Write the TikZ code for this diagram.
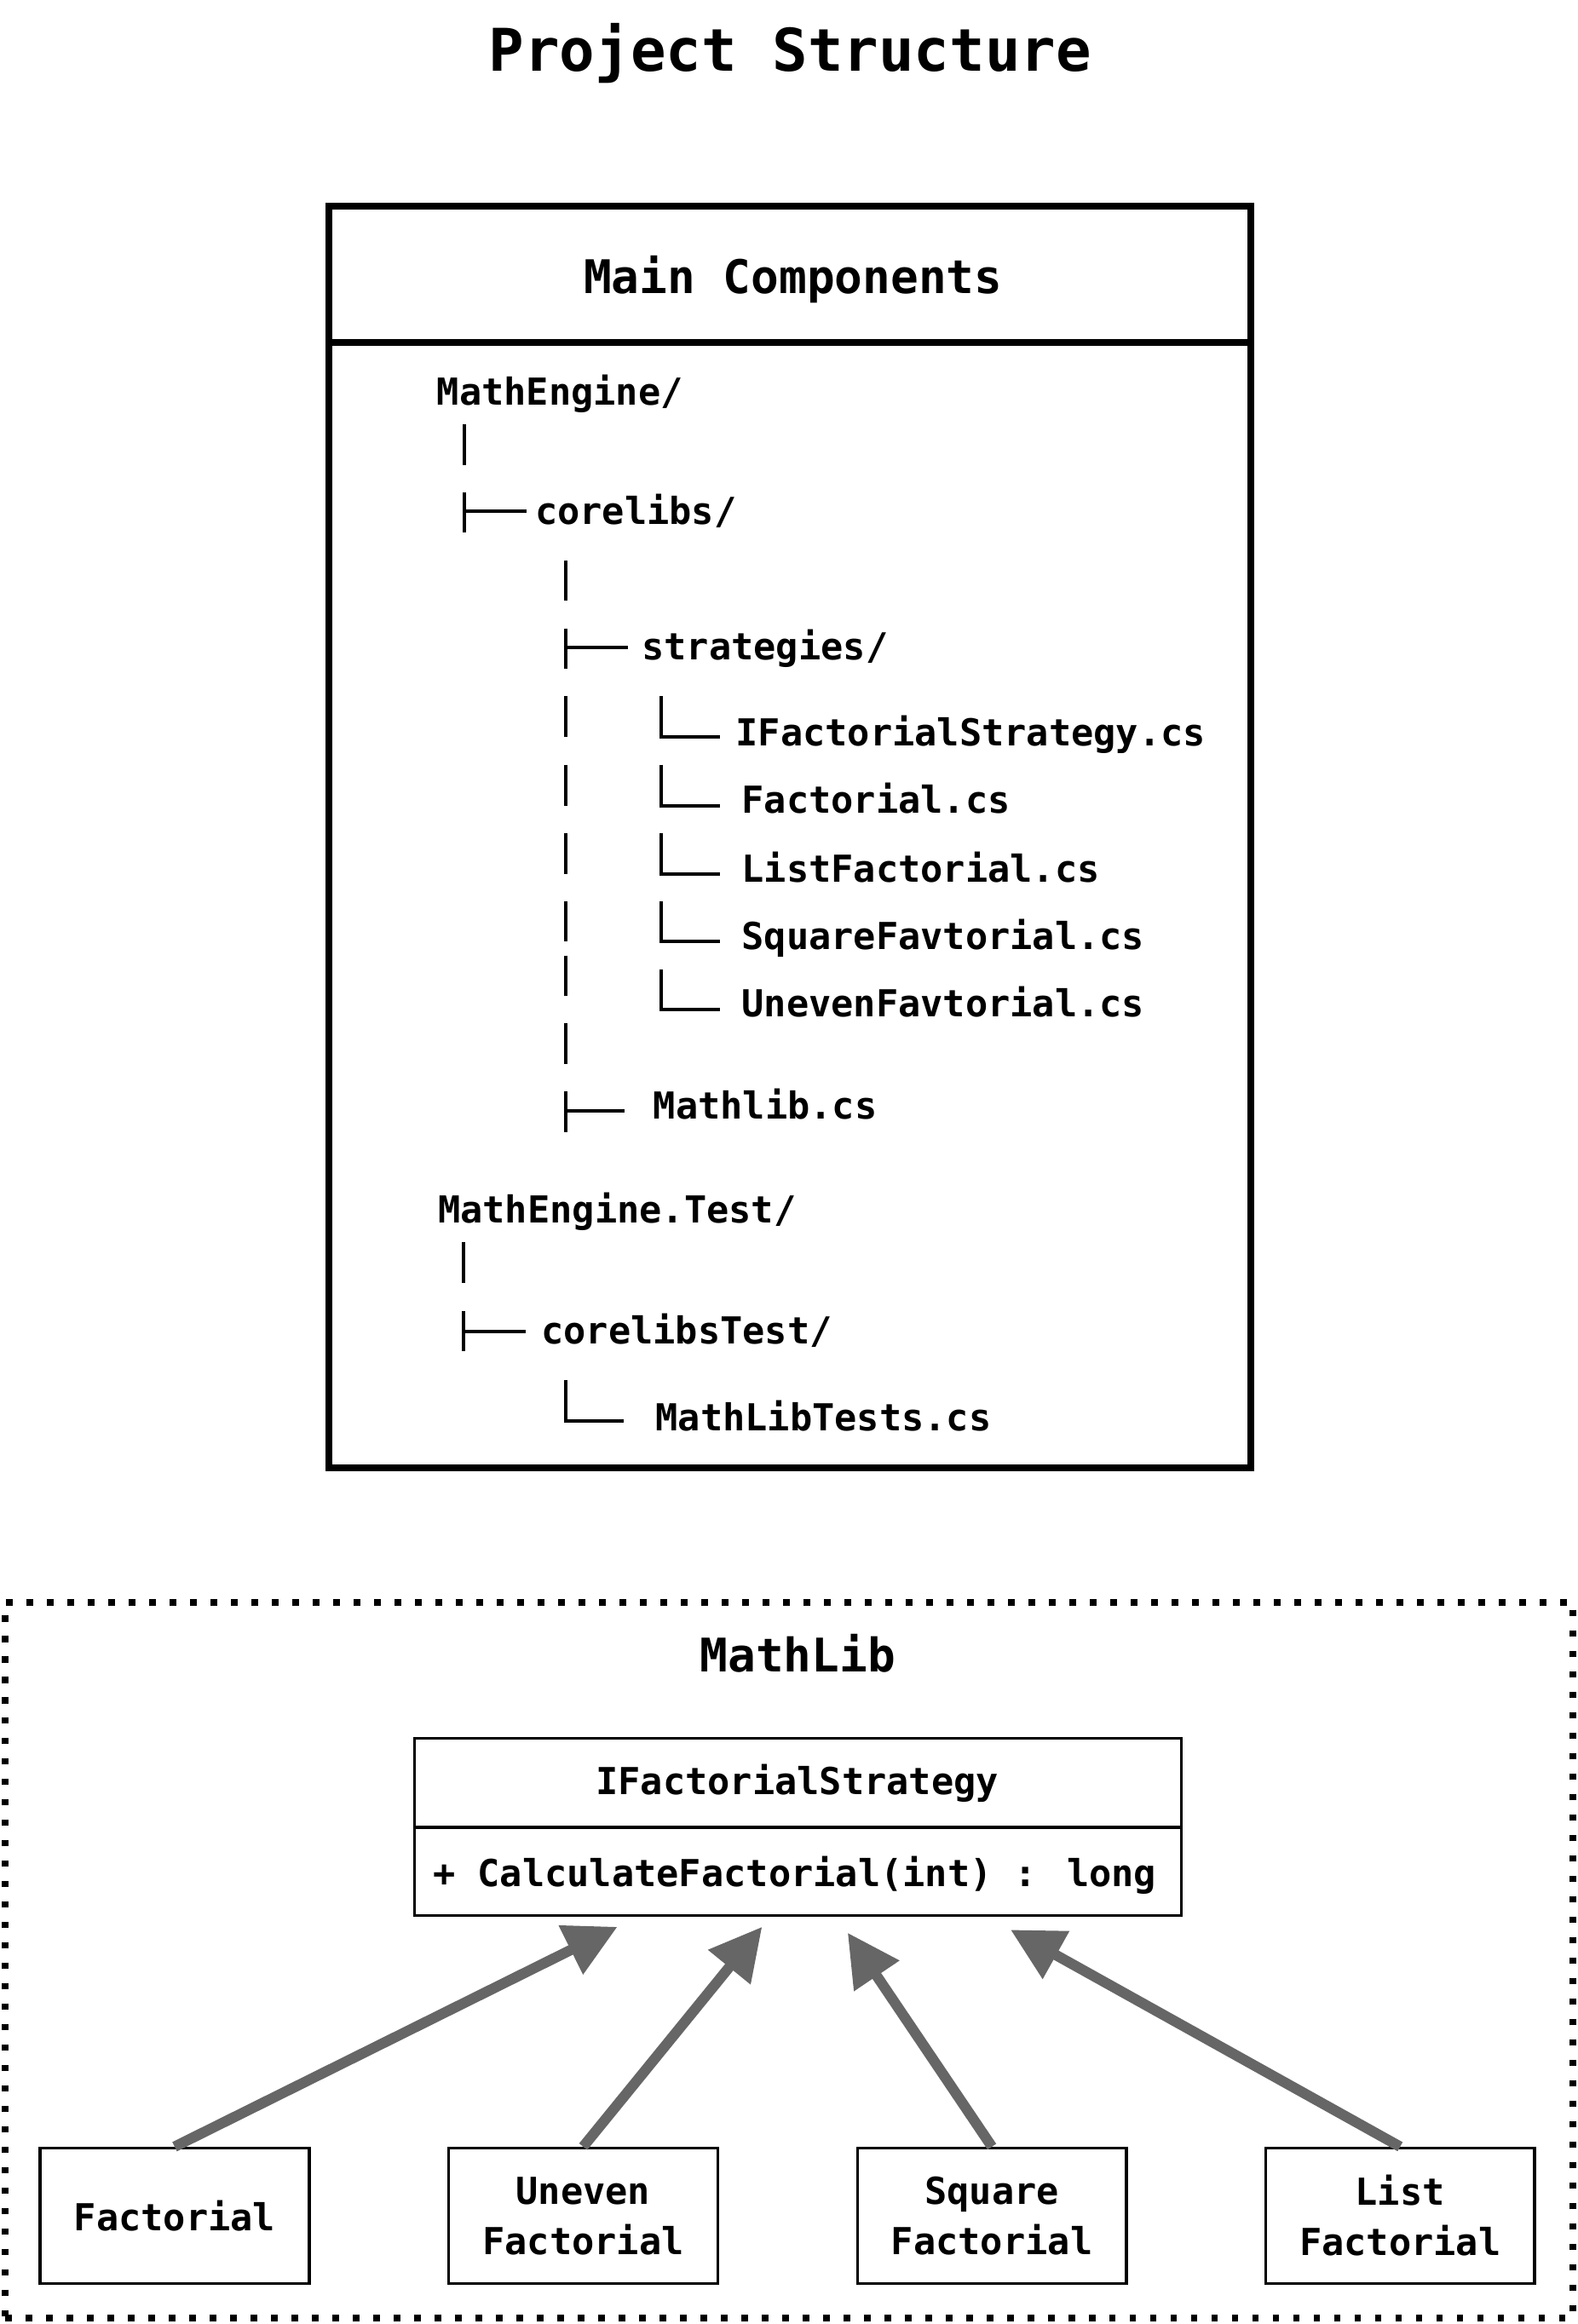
\documentclass[tikz,border=0pt]{standalone}
\usepackage{fontspec}
\setmainfont{DejaVu Sans Mono}
\usetikzlibrary{arrows.meta,fit}
\definecolor{arrgray}{HTML}{666666}
\begin{document}
\begin{tikzpicture}[x=0.02cm,y=-0.02cm,
  treetext/.style={anchor=base west, inner sep=0pt, font=\fontsize{14.27}{17}\selectfont\bfseries},
  treeline/.style={line width=1.3pt, line cap=butt, line join=miter},
  headtext/.style={anchor=base, inner sep=0pt, font=\fontsize{17.8}{21}\selectfont\bfseries},
  clstext/.style={inner sep=0pt, font=\fontsize{14.27}{17}\selectfont\bfseries},
  implbox/.style={draw, line width=1.1pt, minimum width=103.3pt, minimum height=52pt, inner sep=0pt, align=center, font=\fontsize{14.27}{19.3}\selectfont\bfseries},
  realize/.style={draw=arrgray, line width=4pt, -{Triangle[length=20pt,width=20pt]}}
]
\useasboundingbox (0,0) rectangle (1064,1568);

% title
\node[anchor=base, inner sep=0pt, font=\fontsize{22.6}{27}\selectfont\bfseries] (title) at (533,48) {Project Structure};

% main components box
\node[fit={(221.8,139) (843.5,990.2)}, draw, line width=2.6pt, inner sep=0pt] (main) {};
\coordinate (hdiv) at (0,230.9);
\draw[line width=2.6pt] (main.west |- hdiv) -- (main.east |- hdiv);
\node[headtext] (mainhead) at (535,197.8) {Main Components};

% tree texts
\node[treetext] (me) at (294.4,273.3) {MathEngine/};
\node[treetext] (core) at (360.7,354) {corelibs/};
\node[treetext] (strat) at (432.7,445) {strategies/};
\node[treetext] (f1) at (496,503) {IFactorialStrategy.cs};
\node[treetext] (f2) at (500,548.7) {Factorial.cs};
\node[treetext] (f3) at (500,594.9) {ListFactorial.cs};
\node[treetext] (f4) at (500,640.6) {SquareFavtorial.cs};
\node[treetext] (f5) at (500,686.1) {UnevenFavtorial.cs};
\node[treetext] (ml) at (440.4,754.9) {Mathlib.cs};
\node[treetext] (met) at (295.2,824.8) {MathEngine.Test/};
\node[treetext] (coret) at (364.8,906.8) {corelibsTest/};
\node[treetext] (mlt) at (442,965.6) {MathLibTests.cs};

% tree lines
\draw[treeline] (313,286) -- (313,313.8);
\draw[treeline] (313,332.2) -- (313,359.5) (313,345) -- (355,345);
\draw[treeline] (381.8,378) -- (381.8,405.4);
\draw[treeline] (381.8,423.9) -- (381.8,451.2) (381.8,436.9) -- (423.8,436.9);
\foreach \a/\b in {469.7/497.4, 515.9/543.5, 562/589.7, 608.2/635.2, 644.7/671.8, 690.2/717.9}
  \draw[treeline] (381.6,\a) -- (381.6,\b);
\foreach \a/\b in {469.7/497.4, 515.9/543.5, 562/589.7, 608.2/635.2, 654.3/681}
  \draw[treeline] (446,\a) -- (446,\b) -- (485.7,\b);
\draw[treeline] (381.6,736.4) -- (381.6,764.1) (381.6,749.3) -- (421.4,749.3);
\draw[treeline] (312.6,838.3) -- (312.6,865.4);
\draw[treeline] (312.6,884.6) -- (312.6,911.6) (312.6,898.1) -- (354.7,898.1);
\draw[treeline] (381.4,930.9) -- (381.4,958.8) -- (420.6,958.8);

% MathLib frame
\node[fit={(3.5,1081) (1061,1564)}, draw, line width=2.5pt, line cap=butt, dash pattern=on 2.5pt off 5.35pt, inner sep=0pt] (mlframe) {};
\node[headtext] (mlhead) at (538.2,1128) {MathLib};

% interface class box
\node[fit={(279.8,1173) (797,1292.4)}, draw, line width=1.1pt, inner sep=0pt] (cls) {};
\coordinate (cdiv) at (0,1232.8);
\draw[line width=1.1pt] (cls.west |- cdiv) -- (cls.east |- cdiv);
\node[clstext, anchor=base] (clsname) at (537.8,1210.9) {IFactorialStrategy};
\node[clstext, anchor=base west] (clsop) at (291.7,1272.6) {+ CalculateFactorial(int) : long};

% implementations
\node[implbox] (b1) at (117.8,1495) {Factorial};
\node[implbox] (b2) at (393.4,1495) {Uneven\\Factorial};
\node[implbox] (b3) at (669.1,1495) {Square\\Factorial};
\node[implbox] (b4) at (944.5,1495) {List\\Factorial};

\coordinate (t1) at (416.5,1300);
\coordinate (t2) at (514.1,1300);
\coordinate (t3) at (571.8,1304);
\coordinate (t4) at (681.7,1302);
\draw[realize] (b1.north) -- (t1);
\draw[realize] (b2.north) -- (t2);
\draw[realize] (b3.north) -- (t3);
\draw[realize] (b4.north) -- (t4);
\end{tikzpicture}
\end{document}
